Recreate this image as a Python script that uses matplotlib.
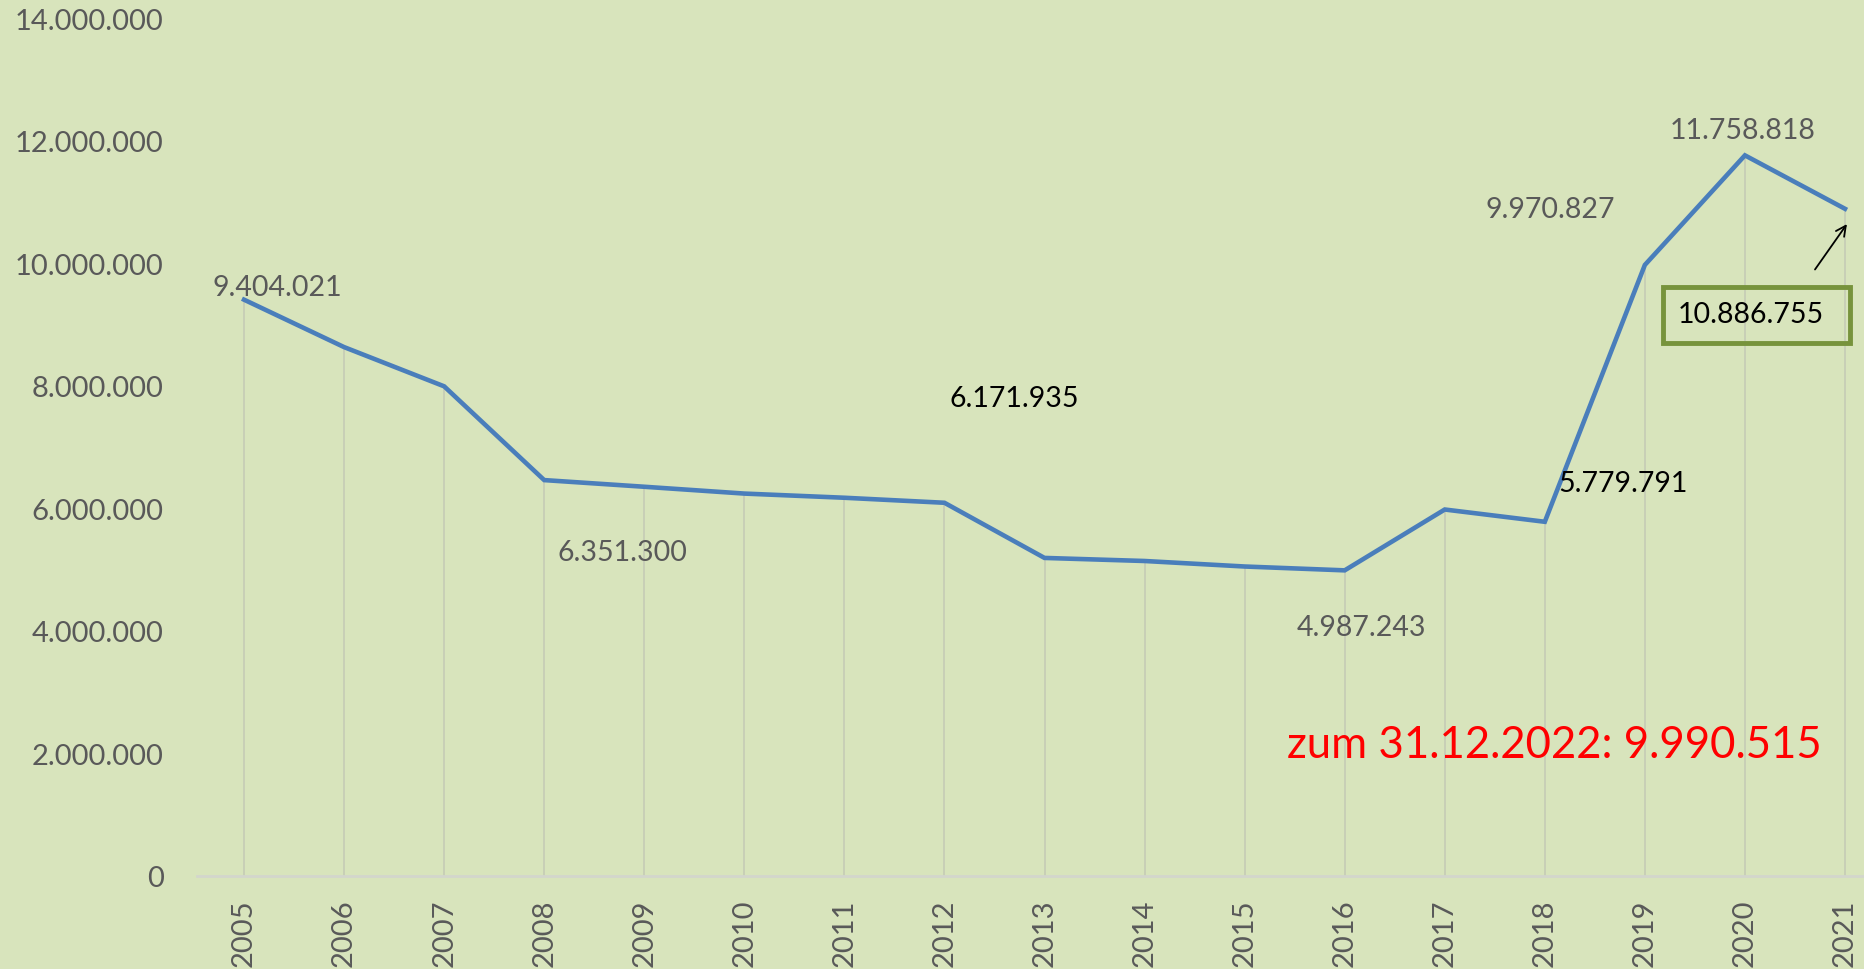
import matplotlib
matplotlib.use("Agg")
import matplotlib.pyplot as plt
import matplotlib.transforms as mtransforms
from matplotlib.patches import Rectangle
from matplotlib.ticker import FuncFormatter

plt.rcParams['font.family'] = ['Lato', 'DejaVu Sans']

# data
years = list(range(2005, 2022))
values = [9404021, 8630000, 7990000, 6460000, 6351300, 6240000, 6171935, 6090000,
          5190000, 5140000, 5050000, 4987243, 5980000, 5779791, 9970827, 11758818,
          10886755]

# labelled points: year, text, offset (points), colour
label_years = [2005, 2009, 2011, 2016, 2018, 2019, 2020]
label_texts = ['9.404.021', '6.351.300', '6.171.935', '4.987.243', '5.779.791',
               '9.970.827', '11.758.818']
label_offsets = [(24, 9), (-16, -47), (122, 72), (12, -41), (56, 28), (-68, 40), (-1.5, 18)]
label_colors = ['#595959', '#595959', 'black', '#595959', 'black', '#595959', '#595959']

boxed_text = '10.886.755'
note_text = 'zum 31.12.2022: 9.990.515'

bg = '#D8E4BC'
gray = '#595959'

fig = plt.figure(figsize=(18.64, 9.70), dpi=100, facecolor=bg)
ax = fig.add_axes([197 / 1864, 93 / 970, (1864 - 197) / 1864, (877 - 19) / 970])
ax.set_facecolor(bg)

ax.vlines(years, 0, values, color='#C5CBB5', lw=1.2, zorder=1)
ax.plot(years, values, color='#4A7EBB', lw=3.3, zorder=3, solid_joinstyle='miter')

ax.set_ylim(0, 14000000)
ax.set_xlim(2005 - 0.47, 2021 + 0.19)
ax.set_yticks(range(0, 14000001, 2000000))
ax.yaxis.set_major_formatter(FuncFormatter(lambda v, p: f"{int(v):,}".replace(",", ".")))
ax.set_xticks(years)
ax.set_xticklabels([str(y) for y in years], rotation=90)
ax.tick_params(axis='y', length=0, pad=24, labelsize=21, labelcolor=gray)
ax.tick_params(axis='x', length=0, pad=16, labelsize=21, labelcolor=gray)

for s in ['left', 'right', 'top']:
    ax.spines[s].set_visible(False)
ax.spines['bottom'].set_color('#D3D6CC')
ax.spines['bottom'].set_linewidth(2)

for yr, txt, off, col in zip(label_years, label_texts, label_offsets, label_colors):
    v = values[years.index(yr)]
    ax.annotate(txt, (yr, v), xytext=off, textcoords='offset points',
                ha='center', va='center', fontsize=20.5, color=col, zorder=5)

# boxed label for 2021
last_y, last_v = years[-1], values[-1]
ax.add_patch(Rectangle((2019.18, 8.70e6), 1.87, 0.91e6, fill=False,
                       edgecolor='#77933C', lw=3.5, zorder=4, clip_on=False))
ax.annotate(boxed_text, (last_y, last_v), xytext=(-68, -76), textcoords='offset points',
            ha='center', va='center', fontsize=20.5, color='black', zorder=5)

head = mtransforms.offset_copy(ax.transData, fig=fig, x=1.4, y=-11, units='points')
tail = mtransforms.offset_copy(ax.transData, fig=fig, x=-21.6, y=-43.7, units='points')
ax.annotate('', xy=(last_y, last_v), xycoords=head, xytext=(last_y, last_v), textcoords=tail,
            arrowprops=dict(arrowstyle='->', color='black', lw=1.3, mutation_scale=18,
                            shrinkA=0, shrinkB=0), annotation_clip=False)

ax.text(1554 / 1864, 1 - 745 / 970, note_text, transform=fig.transFigure,
        ha='center', va='center', fontsize=31.5, color='#FF0000')

fig.savefig('out.png', dpi=100, facecolor=bg)
